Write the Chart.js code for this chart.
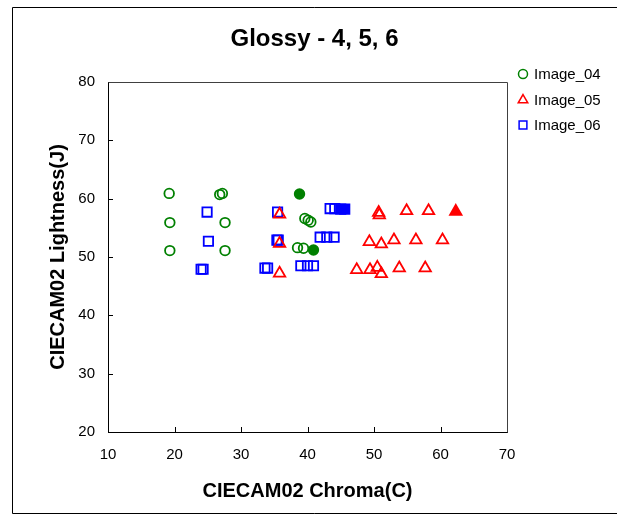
<!DOCTYPE html>
<html>
<head>
<meta charset="utf-8">
<script src="https://cdn.jsdelivr.net/npm/chart.js@4/dist/chart.umd.min.js"></script>
<style>
  html, body { margin: 0; padding: 0; background: #fff; }
  canvas { display: block; }
</style>
</head>
<body>
<canvas id="chart" width="617" height="514"></canvas>
<script>
// chart values
const seriesNames = ["Image_04", "Image_05", "Image_06"];

const image04X = [19.2, 26.8, 27.2, 19.3, 27.6, 19.3, 27.6, 38.8, 39.6, 40.1, 40.5, 38.5, 39.4, 40.9];
const image04Y = [60.9, 60.7, 60.9, 55.9, 55.9, 51.1, 51.1, 60.8, 56.6, 56.3, 56.0, 51.6, 51.5, 51.2];
const image04Solid = [7, 13];

const image05X = [35.8, 35.8, 35.8, 50.7, 50.8, 54.9, 58.2, 62.3, 49.3, 51.1, 53.0, 56.3, 60.3, 47.4, 49.4, 50.5, 51.1, 53.8, 57.7];
const image05Y = [57.3, 52.3, 47.2, 57.6, 57.2, 57.9, 57.9, 57.8, 52.6, 52.2, 52.9, 52.9, 52.9, 47.8, 47.8, 48.2, 47.1, 48.1, 48.1];
const image05Solid = [7];

const image06X = [24.9, 25.1, 24.0, 24.3, 35.5, 35.4, 35.6, 33.6, 34.0, 43.4, 44.1, 45.0, 45.6, 41.9, 42.9, 44.0, 39.0, 40.0, 40.9];
const image06Y = [57.7, 52.7, 47.9, 47.9, 57.7, 52.9, 52.9, 48.1, 48.1, 58.3, 58.3, 58.2, 58.2, 53.4, 53.4, 53.4, 48.5, 48.5, 48.5];
const image06Solid = [11, 12];

const xTicks = [10, 20, 30, 40, 50, 60, 70];
const yTicks = [20, 30, 40, 50, 60, 70, 80];

const FONT = "Arial, 'Liberation Sans', Helvetica, sans-serif";

function toPoints(xs, ys) {
  return xs.map((x, i) => ({ x: x, y: ys[i] }));
}

function makeSet(label, xs, ys, solid, color, style, radius) {
  return {
    label: label,
    data: toPoints(xs, ys),
    pointStyle: style,
    pointRadius: radius,
    pointHoverRadius: radius,
    borderColor: color,
    pointBorderWidth: 1.8,
    backgroundColor: (c) => (solid.includes(c.dataIndex) ? color : "rgba(0,0,0,0)"),
    showLine: false,
  };
}

// frame, inward ticks, title, legend and outer border
const decorations = {
  id: "decorations",
  afterDraw(chart) {
    const ctx = chart.ctx;
    const a = chart.chartArea;
    const xs = chart.scales.x;
    const ys = chart.scales.y;
    ctx.save();

    // top and right edges of plot area
    ctx.strokeStyle = "#404040";
    ctx.lineWidth = 1;
    ctx.beginPath();
    ctx.moveTo(Math.round(a.left) + 0.5, Math.round(a.top) + 0.5);
    ctx.lineTo(Math.round(a.right) + 0.5, Math.round(a.top) + 0.5);
    ctx.lineTo(Math.round(a.right) + 0.5, Math.round(a.bottom) + 0.5);
    ctx.stroke();

    // tick marks pointing inward
    ctx.strokeStyle = "#000";
    ctx.beginPath();
    xTicks.slice(1, -1).forEach((v) => {
      const px = Math.round(xs.getPixelForValue(v)) + 0.5;
      ctx.moveTo(px, a.bottom);
      ctx.lineTo(px, a.bottom - 5);
    });
    yTicks.slice(1, -1).forEach((v) => {
      const py = Math.round(ys.getPixelForValue(v)) + 0.5;
      ctx.moveTo(a.left, py);
      ctx.lineTo(a.left + 5, py);
    });
    ctx.stroke();

    // chart title
    ctx.fillStyle = "#000";
    ctx.font = "bold 24px " + FONT;
    ctx.textAlign = "center";
    ctx.textBaseline = "middle";
    ctx.fillText("Glossy - 4, 5, 6", (a.left + a.right) / 2 + 7, 39);

    // legend
    const rows = [74, 100, 125];
    ctx.textAlign = "left";
    chart.data.datasets.forEach((ds, i) => {
      const y = rows[i];
      ctx.fillStyle = "rgba(0,0,0,0)";
      ctx.strokeStyle = ds.borderColor;
      ctx.lineWidth = 1.5;
      Chart.helpers.drawPoint(ctx, {
        pointStyle: ds.pointStyle,
        radius: ds.pointStyle === "circle" ? 4.5 : 5.5,
        rotation: 0,
        borderWidth: 1.5,
      }, 523, y);
      ctx.fillStyle = "#000";
      ctx.font = "15px " + FONT;
      ctx.fillText(ds.label, 534, y + 1);
    });

    // outer border
    ctx.strokeStyle = "#000";
    ctx.lineWidth = 1;
    ctx.beginPath();
    ctx.moveTo(chart.width, 7.5);
    ctx.lineTo(12.5, 7.5);
    ctx.lineTo(12.5, 513.5);
    ctx.lineTo(chart.width, 513.5);
    ctx.stroke();

    ctx.restore();
  },
};

new Chart(document.getElementById("chart"), {
  type: "scatter",
  data: {
    datasets: [
      makeSet(seriesNames[0], image04X, image04Y, image04Solid, "#008000", "circle", 4.8),
      makeSet(seriesNames[1], image05X, image05Y, image05Solid, "#FF0000", "triangle", 6.6),
      makeSet(seriesNames[2], image06X, image06Y, image06Solid, "#0000FF", "rect", 6.6),
    ],
  },
  options: {
    responsive: false,
    animation: false,
    events: [],
    layout: { padding: { top: 82, right: 110, left: 0, bottom: 0 } },
    plugins: {
      legend: { display: false },
      title: { display: false },
      tooltip: { enabled: false },
    },
    scales: {
      x: {
        type: "linear",
        min: xTicks[0],
        max: xTicks[xTicks.length - 1],
        afterBuildTicks: (s) => { s.ticks = xTicks.map((v) => ({ value: v })); },
        afterFit: (s) => { s.height = 82; },
        grid: { display: false, drawTicks: false },
        border: { color: "#000", width: 1 },
        ticks: { color: "#000", padding: 14, font: { family: FONT, size: 15 } },
        title: {
          display: true,
          text: "CIECAM02 Chroma(C)",
          color: "#000",
          font: { family: FONT, size: 20, weight: "bold" },
          padding: { top: 0, bottom: 11 },
        },
      },
      y: {
        type: "linear",
        min: yTicks[0],
        max: yTicks[yTicks.length - 1],
        afterBuildTicks: (s) => { s.ticks = yTicks.map((v) => ({ value: v })); },
        afterFit: (s) => { s.width = 108; },
        grid: { display: false, drawTicks: false },
        border: { color: "#000", width: 1 },
        ticks: { color: "#000", padding: 13, font: { family: FONT, size: 15 } },
        title: {
          display: true,
          text: "CIECAM02 Lightness(J)",
          color: "#000",
          font: { family: FONT, size: 20, weight: "bold" },
          padding: { top: 46, bottom: 0 },
        },
      },
    },
  },
  plugins: [decorations],
});
</script>
</body>
</html>
